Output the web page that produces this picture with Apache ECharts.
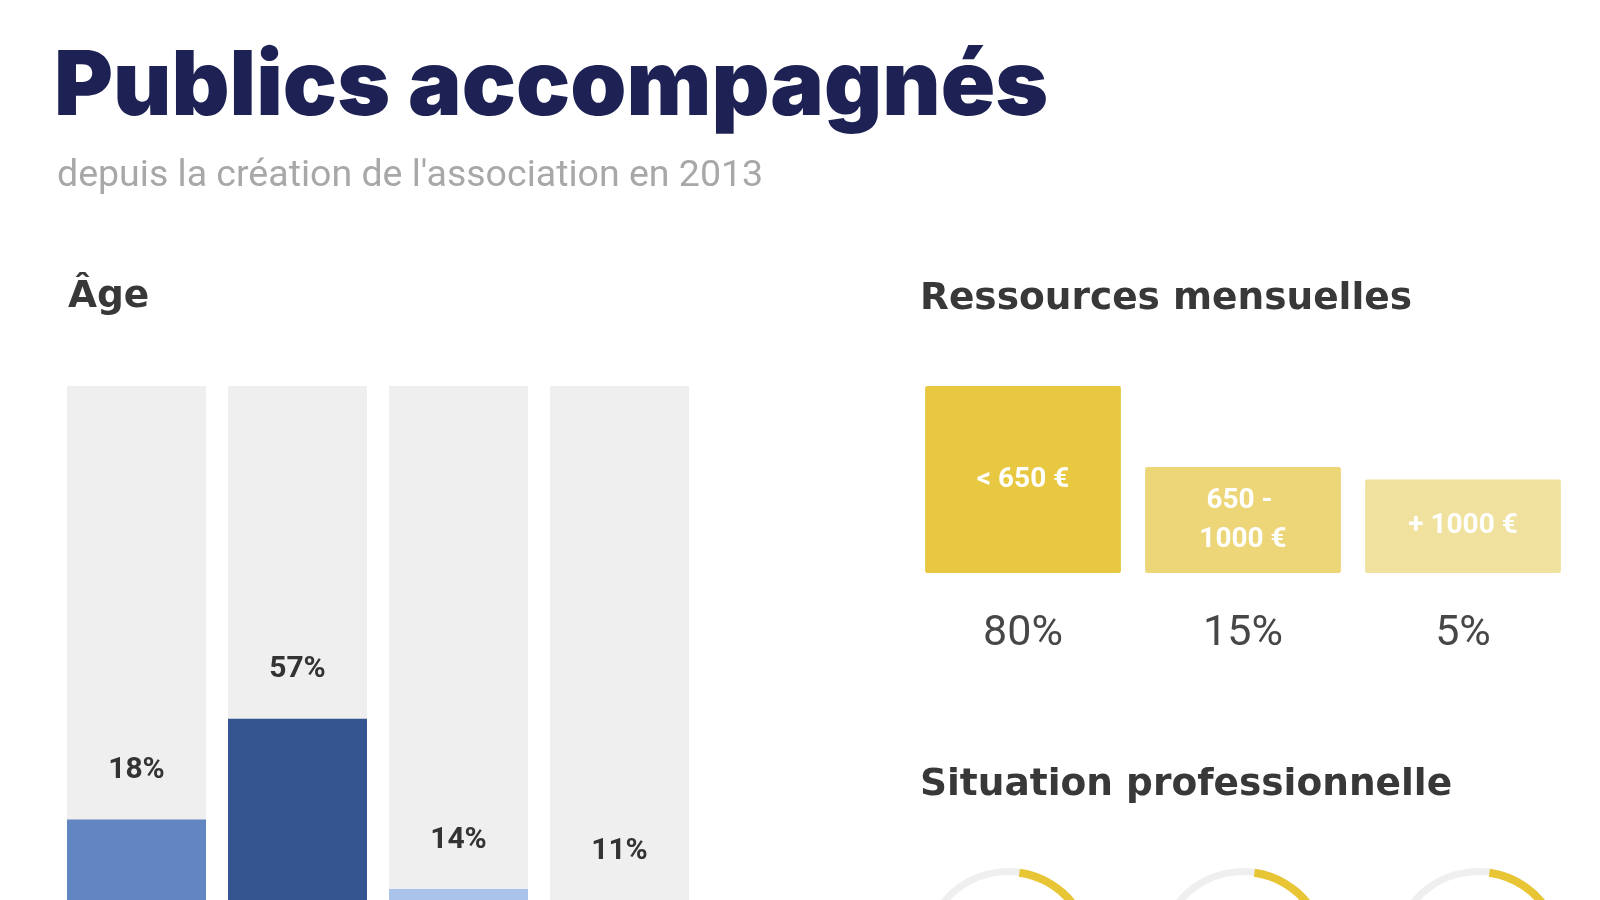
<!DOCTYPE html>
<html>
<head>
<meta charset="utf-8">
<script src="https://cdn.jsdelivr.net/npm/echarts@6/dist/echarts.min.js"></script>
<style>
html,body{margin:0;padding:0;background:#ffffff;}
#chart{width:1600px;height:900px;}
</style>
</head>
<body>
<div id="chart"></div>
<script>
// ---- Data ----
const mainTitle = 'Publics accompagnés';
const subTitle = "depuis la création de l'association en 2013";

const ageTitle = 'Âge';
const ageCategories = ['Tranche 1', 'Tranche 2', 'Tranche 3', 'Tranche 4'];
const ageShares = [18, 57, 14, 11];          // printed percentages
const ageBarLevels = [44, 57, 35, 33.5];     // bar heights as drawn, in % of the grey track

const resTitle = 'Ressources mensuelles';
const resCategories = ['< 650 €', '650 - 1000 €', '+ 1000 €'];
const resShares = [80, 15, 5];

const sitTitle = 'Situation professionnelle';
const sitShares = [60, 25, 15];

// ---- Styles ----
const ageColors = ['#6286c2', '#34558f', '#a9c3ea', '#8eaadb'];
const resColors = ['#e8c840', '#ecd677', '#f0e29e'];
const RES_MIN = -70;

const chart = echarts.init(document.getElementById('chart'));

const sectionFont = 'bold 37.5px "DejaVu Sans", Inter, sans-serif';

const option = {
  backgroundColor: '#ffffff',
  animation: false,
  graphic: [
    {type: 'text', x: 54, y: 88, style: {text: mainTitle, font: '900 90px Inter, "Noto Sans", sans-serif', fill: '#1d2153', textVerticalAlign: 'middle'}},
    {type: 'text', x: 57, y: 177, style: {text: subTitle, font: '37.5px Roboto, sans-serif', fill: '#a8a8a8', textVerticalAlign: 'middle'}},
    {type: 'text', x: 68, y: 297, style: {text: ageTitle, font: sectionFont, fill: '#383838', textVerticalAlign: 'middle'}},
    {type: 'text', x: 920, y: 299, style: {text: resTitle, font: sectionFont, fill: '#383838', textVerticalAlign: 'middle'}},
    {type: 'text', x: 920, y: 785, style: {text: sitTitle, font: sectionFont, fill: '#383838', textVerticalAlign: 'middle'}}
  ],
  grid: [
    {left: 56, width: 644, top: 386, height: 774, outerBoundsMode: 'none', containLabel: false},
    {left: 913, width: 660, top: 386, height: 187, outerBoundsMode: 'none'}
  ],
  xAxis: [
    {gridIndex: 0, type: 'category', data: ageCategories, show: false},
    {gridIndex: 1, type: 'category', data: resCategories, show: false}
  ],
  yAxis: [
    {gridIndex: 0, type: 'value', min: 0, max: 100, show: false},
    {gridIndex: 1, type: 'value', min: RES_MIN, max: 80, show: false}
  ],
  series: [
    {
      type: 'bar',
      xAxisIndex: 0, yAxisIndex: 0,
      barWidth: 139,
      data: ageBarLevels.map((v, i) => ({value: v, itemStyle: {color: ageColors[i]}})),
      showBackground: true,
      backgroundStyle: {color: '#efefef'},
      label: {
        show: true, position: 'top', distance: 34,
        formatter: p => ageShares[p.dataIndex] + '%',
        color: '#333333', fontSize: 30, fontWeight: 'bold', fontFamily: 'Roboto, sans-serif'
      }
    },
    {
      type: 'custom',
      xAxisIndex: 1, yAxisIndex: 1,
      data: resShares.map((v, i) => [i, v]),
      renderItem: function (params, api) {
        const i = api.value(0), v = api.value(1);
        const top = api.coord([i, v]);
        const base = api.coord([i, RES_MIN]);
        const w = api.size([1, 0])[0] * 0.89;
        return {
          type: 'group',
          children: [
            {
              type: 'rect',
              shape: {x: top[0] - w / 2, y: top[1], width: w, height: base[1] - top[1], r: 2},
              style: {fill: resColors[i]},
              textContent: {
                style: {
                  text: resCategories[i], fill: '#ffffff',
                  font: 'bold 28px Roboto, sans-serif',
                  align: 'center', lineHeight: 39,
                  width: 136, overflow: 'break'
                }
              },
              textConfig: {position: 'inside'}
            },
            {
              type: 'text',
              x: top[0], y: base[1] + 61,
              style: {
                text: v + '%', fill: '#474747',
                font: '43px Roboto, sans-serif',
                textAlign: 'center', textVerticalAlign: 'middle'
              }
            }
          ]
        };
      }
    }
  ].concat(sitShares.map((v, i) => ({
    type: 'gauge',
    center: [1008 + i * 235, 954],
    radius: 86,
    startAngle: 82, endAngle: -278,
    min: 0, max: 100,
    axisLine: {lineStyle: {width: 7, color: [[1, '#efefef']]}},
    progress: {show: true, width: 8, itemStyle: {color: '#e8c534'}},
    pointer: {show: false}, axisTick: {show: false}, splitLine: {show: false},
    axisLabel: {show: false}, title: {show: false}, detail: {show: false},
    data: [{value: v}]
  })))
};
chart.setOption(option);
</script>
</body>
</html>
